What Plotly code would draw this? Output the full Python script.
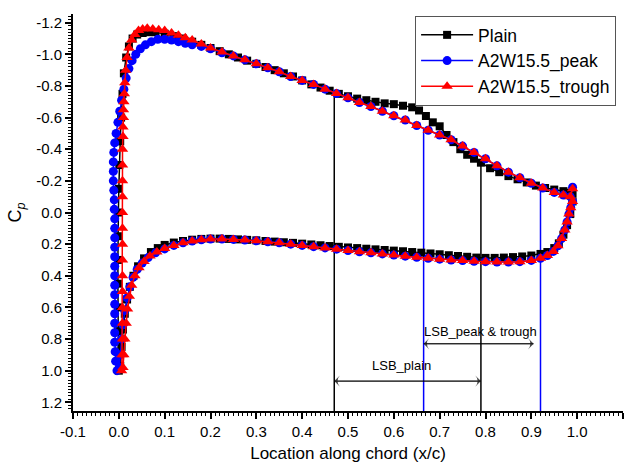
import numpy as np
import plotly.graph_objects as go

# ---- Surface pressure coefficient data (x/c, Cp) ----
# Plain aerofoil, suction side (leading edge -> trailing edge)
plain_up_x = [0.000, -0.001, -0.002, -0.002, -0.002, -0.002, -0.002, -0.001, 0.000, 0.001,
              0.003, 0.005, 0.008, 0.011, 0.016, 0.022, 0.030, 0.040, 0.052, 0.065,
              0.080, 0.100, 0.120, 0.140, 0.160, 0.180, 0.200, 0.220, 0.240, 0.260,
              0.280, 0.300, 0.320, 0.340, 0.360, 0.380, 0.400, 0.420, 0.440, 0.460,
              0.480, 0.500, 0.520, 0.540, 0.560, 0.580, 0.600, 0.620, 0.640, 0.655,
              0.670, 0.685, 0.700, 0.715, 0.730, 0.745, 0.760, 0.775, 0.790, 0.810,
              0.830, 0.850, 0.870, 0.890, 0.910, 0.930, 0.950, 0.970, 0.985, 0.990]
plain_up_cp = [1.00, 0.88, 0.75, 0.60, 0.45, 0.30, 0.15, 0.00, -0.15, -0.30,
               -0.45, -0.60, -0.75, -0.88, -0.98, -1.05, -1.10, -1.125, -1.135, -1.14,
               -1.14, -1.13, -1.115, -1.10, -1.08, -1.06, -1.04, -1.02, -1.00, -0.98,
               -0.96, -0.94, -0.92, -0.90, -0.88, -0.86, -0.835, -0.81, -0.79, -0.77,
               -0.75, -0.735, -0.72, -0.71, -0.70, -0.69, -0.685, -0.675, -0.665, -0.645,
               -0.61, -0.57, -0.545, -0.49, -0.445, -0.40, -0.365, -0.34, -0.315, -0.28,
               -0.255, -0.23, -0.21, -0.19, -0.17, -0.155, -0.145, -0.135, -0.125, -0.12]
# Plain aerofoil, pressure side (leading edge -> trailing edge)
plain_lo_x = [0.003, 0.006, 0.009, 0.013, 0.018, 0.024, 0.032, 0.042, 0.055, 0.070,
              0.085, 0.100, 0.120, 0.140, 0.160, 0.180, 0.200, 0.220, 0.240, 0.260,
              0.280, 0.300, 0.320, 0.340, 0.360, 0.380, 0.400, 0.420, 0.440, 0.460,
              0.480, 0.500, 0.520, 0.540, 0.560, 0.580, 0.600, 0.620, 0.640, 0.660,
              0.680, 0.700, 0.720, 0.740, 0.760, 0.780, 0.800, 0.820, 0.840, 0.860,
              0.880, 0.900, 0.920, 0.935, 0.950, 0.960, 0.970, 0.978, 0.985, 0.990]
plain_lo_cp = [0.97, 0.85, 0.74, 0.64, 0.55, 0.47, 0.40, 0.34, 0.29, 0.25,
               0.225, 0.205, 0.19, 0.18, 0.172, 0.167, 0.165, 0.165, 0.167, 0.170,
               0.173, 0.176, 0.180, 0.184, 0.188, 0.192, 0.197, 0.202, 0.207, 0.212,
               0.217, 0.221, 0.225, 0.229, 0.233, 0.237, 0.241, 0.245, 0.25, 0.254,
               0.259, 0.264, 0.270, 0.275, 0.280, 0.285, 0.287, 0.287, 0.285, 0.282,
               0.278, 0.272, 0.262, 0.25, 0.225, 0.195, 0.14, 0.08, 0.01, -0.07]

# A2W15.5 peak, suction side
peak_up_x = [-0.004, -0.007, -0.008, -0.009, -0.009, -0.009, -0.009, -0.009, -0.009, -0.009,
             -0.009, -0.009, -0.009, -0.009, -0.009, -0.009, -0.009, -0.010, -0.010, -0.011,
             -0.012, -0.012, -0.012, -0.011, -0.009, -0.006, -0.002, 0.002, 0.006, 0.011,
             0.016, 0.022, 0.029, 0.037, 0.047, 0.058, 0.071, 0.085, 0.100, 0.115,
             0.130, 0.145, 0.160, 0.180, 0.200, 0.225, 0.250, 0.275, 0.300, 0.325,
             0.350, 0.375, 0.400, 0.425, 0.450, 0.475, 0.500, 0.525, 0.550, 0.575,
             0.600, 0.625, 0.650, 0.675, 0.700, 0.725, 0.750, 0.775, 0.800, 0.825,
             0.850, 0.875, 0.900, 0.925, 0.950, 0.970, 0.985, 0.990]
peak_up_cp = [1.00, 0.94, 0.88, 0.82, 0.76, 0.70, 0.64, 0.58, 0.52, 0.46,
              0.40, 0.34, 0.28, 0.22, 0.16, 0.10, 0.04, -0.02, -0.08, -0.14,
              -0.20, -0.26, -0.32, -0.38, -0.44, -0.50, -0.57, -0.64, -0.71, -0.78,
              -0.85, -0.91, -0.96, -1.00, -1.035, -1.06, -1.08, -1.095, -1.095, -1.09,
              -1.08, -1.07, -1.06, -1.05, -1.035, -1.01, -0.99, -0.965, -0.94, -0.915,
              -0.89, -0.86, -0.835, -0.81, -0.78, -0.752, -0.725, -0.695, -0.67, -0.64,
              -0.612, -0.585, -0.55, -0.52, -0.49, -0.46, -0.42, -0.38, -0.34, -0.295,
              -0.255, -0.22, -0.185, -0.155, -0.127, -0.11, -0.10, -0.16]
# A2W15.5 peak, pressure side
peak_lo_x = [0.001, 0.003, 0.006, 0.009, 0.013, 0.018, 0.024, 0.031, 0.040, 0.051,
             0.064, 0.080, 0.100, 0.120, 0.140, 0.160, 0.180, 0.200, 0.225, 0.250,
             0.275, 0.300, 0.325, 0.350, 0.375, 0.400, 0.425, 0.450, 0.475, 0.500,
             0.525, 0.550, 0.575, 0.600, 0.625, 0.650, 0.675, 0.700, 0.725, 0.750,
             0.775, 0.800, 0.825, 0.850, 0.875, 0.900, 0.920, 0.935, 0.948, 0.958,
             0.966, 0.973, 0.978, 0.982, 0.986, 0.990]
peak_lo_cp = [0.98, 0.90, 0.80, 0.71, 0.62, 0.54, 0.47, 0.41, 0.36, 0.32,
              0.285, 0.255, 0.23, 0.208, 0.192, 0.18, 0.172, 0.168, 0.168, 0.170,
              0.174, 0.179, 0.185, 0.192, 0.200, 0.208, 0.216, 0.224, 0.232, 0.240,
              0.248, 0.255, 0.262, 0.269, 0.276, 0.283, 0.289, 0.295, 0.300, 0.304,
              0.308, 0.311, 0.313, 0.313, 0.311, 0.303, 0.29, 0.272, 0.246, 0.21,
              0.165, 0.11, 0.06, 0.01, -0.03, -0.07]

# A2W15.5 trough, suction side
trough_up_x = [0.006, 0.007, 0.008, 0.008, 0.008, 0.008, 0.008, 0.008, 0.008, 0.008,
               0.008, 0.008, 0.008, 0.008, 0.008, 0.009, 0.009, 0.010, 0.010, 0.011,
               0.012, 0.013, 0.015, 0.018, 0.022, 0.028, 0.035, 0.043, 0.052, 0.062,
               0.074, 0.087, 0.100, 0.115, 0.130, 0.145, 0.160, 0.180, 0.200, 0.225,
               0.250, 0.275, 0.300, 0.325, 0.350, 0.375, 0.400, 0.425, 0.450, 0.475,
               0.500, 0.525, 0.550, 0.575, 0.600, 0.625, 0.650, 0.675, 0.700, 0.725,
               0.750, 0.775, 0.800, 0.825, 0.850, 0.875, 0.900, 0.925, 0.950, 0.970,
               0.985, 0.990]
trough_up_cp = [1.00, 0.90, 0.80, 0.70, 0.60, 0.50, 0.40, 0.30, 0.20, 0.10,
                0.00, -0.10, -0.20, -0.30, -0.40, -0.48, -0.54, -0.60, -0.65, -0.70,
                -0.75, -0.82, -0.90, -0.98, -1.04, -1.09, -1.125, -1.15, -1.16, -1.165,
                -1.16, -1.155, -1.15, -1.135, -1.12, -1.105, -1.09, -1.065, -1.04, -1.015,
                -0.99, -0.965, -0.94, -0.915, -0.89, -0.86, -0.835, -0.81, -0.78, -0.752,
                -0.725, -0.695, -0.67, -0.64, -0.612, -0.585, -0.55, -0.52, -0.49, -0.46,
                -0.42, -0.38, -0.34, -0.295, -0.255, -0.22, -0.185, -0.155, -0.127, -0.11,
                -0.10, -0.15]
# A2W15.5 trough, pressure side
trough_lo_x = [0.009, 0.011, 0.013, 0.016, 0.019, 0.023, 0.028, 0.035, 0.044, 0.055,
               0.068, 0.083, 0.100, 0.120, 0.140, 0.160, 0.180, 0.200, 0.225, 0.250,
               0.275, 0.300, 0.325, 0.350, 0.375, 0.400, 0.425, 0.450, 0.475, 0.500,
               0.525, 0.550, 0.575, 0.600, 0.625, 0.650, 0.675, 0.700, 0.725, 0.750,
               0.775, 0.800, 0.825, 0.850, 0.875, 0.900, 0.920, 0.935, 0.948, 0.958,
               0.966, 0.973, 0.978, 0.982, 0.986, 0.990]
trough_lo_cp = [0.98, 0.90, 0.80, 0.70, 0.61, 0.53, 0.46, 0.40, 0.35, 0.31,
                0.275, 0.25, 0.228, 0.208, 0.192, 0.18, 0.172, 0.168, 0.168, 0.170,
                0.174, 0.179, 0.185, 0.192, 0.200, 0.208, 0.216, 0.224, 0.232, 0.240,
                0.248, 0.255, 0.262, 0.269, 0.276, 0.283, 0.289, 0.295, 0.300, 0.304,
                0.308, 0.311, 0.313, 0.313, 0.311, 0.303, 0.29, 0.272, 0.246, 0.21,
                0.165, 0.11, 0.06, 0.01, -0.03, -0.07]

# Laminar separation bubble extents (x/c)
lsb_plain = [0.47, 0.79]
lsb_peak_trough = [0.665, 0.92]

x_ticks = [-0.1, 0.0, 0.1, 0.2, 0.3, 0.4, 0.5, 0.6, 0.7, 0.8, 0.9, 1.0, 1.1]
y_ticks = [-1.2, -1.0, -0.8, -0.6, -0.4, -0.2, 0.0, 0.2, 0.4, 0.6, 0.8, 1.0, 1.2]

FONT = "Arial, Liberation Sans, sans-serif"


def loop(up_x, up_cp, lo_x, lo_cp):
    """Walk the surface trailing edge -> suction side -> leading edge -> pressure side."""
    return list(up_x[::-1]) + list(lo_x), list(up_cp[::-1]) + list(lo_cp)


def cp_on_upper(up_x, up_cp, x0):
    """Suction-side Cp at x0 (aft of the suction peak, where x is monotonic)."""
    ux = np.array(up_x)
    uc = np.array(up_cp)
    m = ux > 0.1
    return float(np.interp(x0, ux[m], uc[m]))


series = [
    ("Plain", plain_up_x, plain_up_cp, plain_lo_x, plain_lo_cp, "#000000", "square", 8),
    ("A2W15.5_peak", peak_up_x, peak_up_cp, peak_lo_x, peak_lo_cp, "#0000ff", "circle", 9),
    ("A2W15.5_trough", trough_up_x, trough_up_cp, trough_lo_x, trough_lo_cp, "#ff0000", "triangle-up", 10),
]

fig = go.Figure()
for name, ux, uc, lx, lc, color, sym, size in series:
    xs, cs = loop(ux, uc, lx, lc)
    fig.add_trace(go.Scatter(
        x=xs, y=cs, name=name, mode="lines+markers",
        line=dict(color=color, width=1.5),
        marker=dict(symbol=sym, size=size, color=color, line=dict(width=0)),
    ))

Y_BOTTOM = 1.255
Y_TOP = -1.255

# LSB boundary lines, dropped from the suction-side curve to the axis
for x0 in lsb_plain:
    fig.add_shape(type="line", xref="x", yref="y", x0=x0, x1=x0,
                  y0=cp_on_upper(plain_up_x, plain_up_cp, x0), y1=Y_BOTTOM,
                  line=dict(color="black", width=1.5), layer="below")
for x0 in lsb_peak_trough:
    fig.add_shape(type="line", xref="x", yref="y", x0=x0, x1=x0,
                  y0=cp_on_upper(peak_up_x, peak_up_cp, x0), y1=Y_BOTTOM,
                  line=dict(color="#0000ff", width=1.5), layer="below")


def span_arrow(x_a, x_b, y):
    """Double-headed dimension arrow between x_a and x_b at height y."""
    for xs in ([x_a, x_b], [x_b, x_a]):
        fig.add_trace(go.Scatter(
            x=xs, y=[y, y], mode="lines+markers", showlegend=False, hoverinfo="skip",
            line=dict(color="black", width=0.8),
            marker=dict(symbol="arrow-wide", angleref="previous", size=[0, 8],
                        color="black", line=dict(width=0)),
        ))


span_arrow(lsb_plain[0], lsb_plain[1], 1.066)
span_arrow(lsb_peak_trough[0], 0.905, 0.83)

fig.add_annotation(x=0.617, y=0.97, text="LSB_plain", showarrow=False,
                   xref="x", yref="y", font=dict(family=FONT, size=13, color="black"))
fig.add_annotation(x=0.79, y=0.75, text="LSB_peak &amp; trough", showarrow=False,
                   xref="x", yref="y", font=dict(family=FONT, size=13, color="black"))

fig.update_layout(
    width=630, height=467,
    margin=dict(l=73, r=7, t=14, b=54),
    paper_bgcolor="white", plot_bgcolor="white",
    font=dict(family=FONT, color="black"),
    showlegend=True,
    legend=dict(x=0.622, y=0.995, xanchor="left", yanchor="top",
                bgcolor="white", bordercolor="#555555", borderwidth=1,
                font=dict(family=FONT, size=17.5, color="black"),
                tracegroupgap=0, itemwidth=52),
)

fig.update_xaxes(
    range=[-0.1, 1.1], showgrid=False, zeroline=False,
    showline=True, linecolor="black", linewidth=2,
    tickvals=x_ticks, ticktext=[f"{v:.1f}" for v in x_ticks],
    ticks="outside", ticklen=6, tickwidth=1.5, tickcolor="black",
    tickfont=dict(family=FONT, size=15, color="black"),
    minor=dict(dtick=0.01, tick0=0, ticks="outside", ticklen=3, tickwidth=1, tickcolor="black"),
    title=dict(text="Location along chord (x/c)", font=dict(family=FONT, size=17, color="black"),
               standoff=8),
)
fig.update_yaxes(
    range=[Y_BOTTOM, Y_TOP], showgrid=False, zeroline=False,
    showline=True, linecolor="black", linewidth=2,
    tickvals=y_ticks, ticktext=[f"{v:.1f}" for v in y_ticks],
    ticks="outside", ticklen=6, tickwidth=1.5, tickcolor="black",
    tickfont=dict(family=FONT, size=15, color="black"),
    minor=dict(dtick=0.02, tick0=0, ticks="outside", ticklen=3, tickwidth=1, tickcolor="black"),
    title=dict(text="C<sub><i>p</i></sub>", font=dict(family=FONT, size=18, color="black"),
               standoff=10),
)

fig.write_html("out.html")
